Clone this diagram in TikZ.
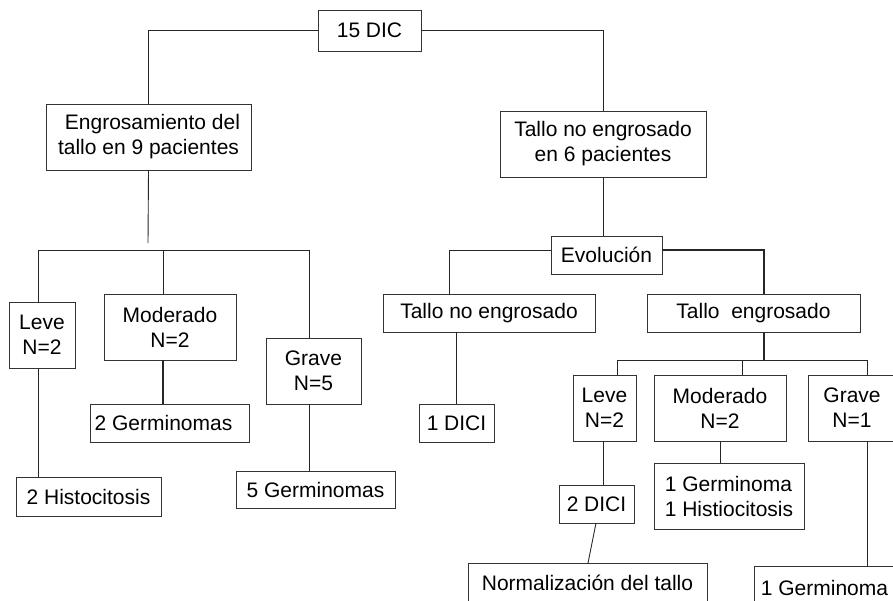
\documentclass[tikz,border=0pt]{standalone}
\usepackage{fontspec}
\setmainfont{Liberation Sans}
\begin{document}
\begin{tikzpicture}[x=1pt,y=-1pt,
  box/.style={draw=black!80,line width=0.9pt,inner sep=0pt,align=center,
    font=\fontsize{21}{25}\selectfont,text=black},
  conn/.style={draw=black!85,line width=0.9pt}]
\useasboundingbox (0,0) rectangle (893,600);
\clip (0,0) rectangle (893,600);
% nodes
\node[box,minimum width=103,minimum height=41] (dic) at (369.5,30.5) {15 DIC};
\node[box,minimum width=205,minimum height=66] (eng) at (148.5,137) {\hspace*{8pt}Engrosamiento del\\tallo en 9 pacientes};
\node[box,minimum width=206,minimum height=66] (tne6) at (603,144) {Tallo no engrosado\\en 6 pacientes};
\node[box,minimum width=111,minimum height=38] (evo) at (606.5,255) {Evolución};
\node[box,minimum width=66,minimum height=66] (lleve) at (42,335) {Leve\\N=2};
\node[box,minimum width=132,minimum height=66] (lmod) at (170,327) {Moderado\\N=2};
\node[box,minimum width=95,minimum height=66] (lgrave) at (313.5,371) {Grave\\N=5};
\node[box,minimum width=159,minimum height=38] (lgerm2) at (169.5,423) {2 Germinomas\hspace*{12pt}};
\node[box,minimum width=145,minimum height=39] (lhist) at (88.5,496.5) {2 Histocitosis};
\node[box,minimum width=159,minimum height=37] (lgerm5) at (315.5,489.5) {5 Germinomas};
\node[box,minimum width=212,minimum height=38] (tne) at (489,313) {Tallo no engrosado};
\node[box,minimum width=213,minimum height=38] (te) at (753.5,313) {Tallo~~engrosado};
\node[box,minimum width=75,minimum height=38] (dici1) at (456.5,423) {1 DICI};
\node[box,minimum width=63,minimum height=66] (rleve) at (604.5,408) {Leve\\N=2};
\node[box,minimum width=132,minimum height=66] (rmod) at (720,408) {Moderado\\N=2};
\node[box,minimum width=88,minimum height=66] (rgrave) at (852,408) {Grave\\N=1};
\node[box,minimum width=75,minimum height=38] (dici2) at (596.5,504) {2 DICI};
\node[box,minimum width=150,minimum height=66,align=left] (rgh) at (729,496) {1 Germinoma\\1 Histiocitosis};
\node[box,minimum width=239,minimum height=50,anchor=north] (norm) at (587.5,563) {\raisebox{12pt}{Normalización del tallo}};
\node[box,minimum width=149,minimum height=50,anchor=north] (rgerm) at (828.5,566) {\hspace*{-8pt}\raisebox{8pt}{1 Germinoma}};
% coordinates
\coordinate (lend) at (148,243);
\coordinate (lb1) at (38,250);
\coordinate (lb2) at (163,250);
\coordinate (lb3) at (309,250);
\coordinate (rb1) at (449,250);
\coordinate (rb2) at (764,250);
\coordinate (tb) at (764,360);
\coordinate (tb1) at (617,360);
\coordinate (tb2) at (742,360);
\coordinate (tb3) at (867,360);
\coordinate (dtop) at (596,523);
\coordinate (nbot) at (588,563);
% connectors
\draw[conn] (dic.west) -| (eng.north);
\draw[conn] (dic.east) -| (tne6.north);
\draw[conn] (eng.south) -- (lend);
\draw[conn] (lb1) -- (lb3);
\draw[conn] (lb1) -- (lb1 |- lleve.north);
\draw[conn] (lb2) -- (lb2 |- lmod.north);
\draw[conn] (lb3) -- (lb3 |- lgrave.north);
\draw[conn] (lb1 |- lleve.south) -- (lb1 |- lhist.north);
\draw[conn,line width=1.3pt] (lb2 |- lmod.south) -- (lb2 |- lgerm2.north);
\draw[conn] (lb3 |- lgrave.south) -- (lb3 |- lgerm5.north);
\draw[conn] (tne6.south) -- (tne6.south |- evo.north);
\draw[conn] (rb1 -| evo.west) -- (rb1) -- (rb1 |- tne.north);
\draw[conn,line width=1.2pt] (rb2 -| evo.east) -- (rb2) -- (rb2 |- te.north);
\draw[conn] (dici1.north |- tne.south) -- (dici1.north);
\draw[conn,line width=1.3pt] (tb |- te.south) -- (tb);
\draw[conn] (tb1) -- (tb3);
\draw[conn] (tb1) -- (tb1 |- rleve.north);
\draw[conn] (tb2) -- (tb2 |- rmod.north);
\draw[conn] (tb3) -- (tb3 |- rgrave.north);
\draw[conn] (tb3 |- rgrave.south) -- (tb3 |- rgerm.north);
\draw[conn] (603,441) -- (603,485);
\draw[conn] (rmod.south) -- (rmod.south |- rgh.north);
\draw[conn] (dtop) -- (nbot);
\end{tikzpicture}
\end{document}
